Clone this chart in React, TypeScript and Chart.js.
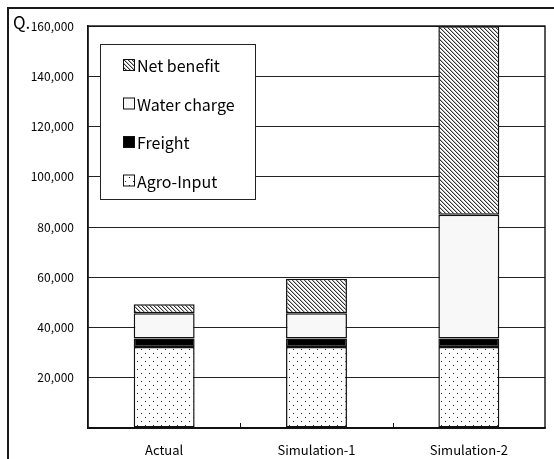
import React, { useEffect, useRef } from "react";
import { Chart, registerables } from "chart.js";

Chart.register(...registerables);

const categories = ["Actual", "Simulation-1", "Simulation-2"];
const agroInput = [32200, 32200, 32200];
const freight = [3400, 3400, 3400];
const waterCharge = [10100, 10100, 49300];
const netBenefit = [3600, 13700, 75000];
const yTicks = [0, 20000, 40000, 60000, 80000, 100000, 120000, 140000, 160000];
const legendLabels = ["Net benefit", "Water charge", "Freight", "Agro-Input"];

const FONT = "'Noto Sans CJK JP', 'Noto Sans', sans-serif";

function makeTile(w: number, h: number, draw: (c: CanvasRenderingContext2D) => void) {
  const cv = document.createElement("canvas");
  cv.width = w;
  cv.height = h;
  const c = cv.getContext("2d")!;
  draw(c);
  return cv;
}

function hatchPattern(ctx: CanvasRenderingContext2D) {
  const tile = makeTile(4, 4, (c) => {
    c.fillStyle = "#ffffff";
    c.fillRect(0, 0, 4, 4);
    for (let i = 0; i < 4; i++) {
      c.fillStyle = "#333333";
      c.fillRect(i, i, 1, 1);
      c.fillStyle = "#b8b8b8";
      c.fillRect((i + 1) % 4, i, 1, 1);
    }
  });
  return ctx.createPattern(tile, "repeat")!;
}

function dotPattern(ctx: CanvasRenderingContext2D) {
  const tile = makeTile(8, 8, (c) => {
    c.fillStyle = "#ffffff";
    c.fillRect(0, 0, 8, 8);
    c.fillStyle = "#222222";
    c.fillRect(1, 1, 1, 1);
    c.fillRect(5, 5, 1, 1);
  });
  return ctx.createPattern(tile, "repeat")!;
}

const framePlugin = {
  id: "frame",
  beforeDraw(chart: any) {
    const { ctx, width, height } = chart;
    ctx.save();
    ctx.fillStyle = "#ffffff";
    ctx.fillRect(0, 0, width, height);
    ctx.strokeStyle = "#1a1a1a";
    ctx.lineWidth = 2;
    ctx.beginPath();
    ctx.moveTo(8, height);
    ctx.lineTo(8, 8);
    ctx.lineTo(width, 8);
    ctx.stroke();
    ctx.fillStyle = "#000";
    ctx.font = `17px ${FONT}`;
    ctx.textBaseline = "alphabetic";
    ctx.textAlign = "left";
    ctx.fillText("Q.", 13, 29);
    ctx.restore();
  },
  beforeDatasetsDraw(chart: any) {
    const { ctx, chartArea } = chart;
    const xs = chart.scales.x;
    ctx.save();
    ctx.strokeStyle = "#111";
    ctx.lineWidth = 1.4;
    ctx.strokeRect(chartArea.left, chartArea.top, chartArea.right - chartArea.left, chartArea.bottom - chartArea.top);
    ctx.lineWidth = 1;
    ctx.beginPath();
    for (let i = 0; i < categories.length - 1; i++) {
      const x = Math.round((xs.getPixelForValue(i) + xs.getPixelForValue(i + 1)) / 2) + 0.5;
      ctx.moveTo(x, chartArea.bottom);
      ctx.lineTo(x, chartArea.bottom - 5);
    }
    ctx.stroke();
    ctx.restore();
  },
  afterDraw(chart: any) {
    const { ctx } = chart;
    const ds = chart.data.datasets;
    ctx.save();
    ctx.fillStyle = "#ffffff";
    ctx.fillRect(100.5, 44.5, 155, 155);
    ctx.strokeStyle = "#222";
    ctx.lineWidth = 1;
    ctx.strokeRect(100.5, 44.5, 155, 155);
    ctx.font = `16px ${FONT}`;
    ctx.textBaseline = "middle";
    ctx.textAlign = "left";
    legendLabels.forEach((label, i) => {
      const d = ds.find((x: any) => x.label === label);
      const cy = 65 + i * 38.5;
      ctx.fillStyle = d.backgroundColor;
      ctx.fillRect(123.5, cy - 5.5, 11, 11);
      ctx.strokeStyle = "#111";
      ctx.strokeRect(123.5, cy - 5.5, 11, 11);
      ctx.fillStyle = "#000";
      ctx.fillText(label, 137, cy + 1);
    });
    ctx.restore();
  },
};

export default function App() {
  const ref = useRef<HTMLCanvasElement>(null);
  useEffect(() => {
    document.body.style.margin = "0";
    const canvas = ref.current!;
    const ctx = canvas.getContext("2d")!;
    const chart = new Chart(canvas, {
      type: "bar",
      data: {
        labels: categories,
        datasets: [
          { label: "Agro-Input", data: agroInput, backgroundColor: dotPattern(ctx) as any },
          { label: "Freight", data: freight, backgroundColor: "#000000" },
          { label: "Water charge", data: waterCharge, backgroundColor: "#f8f8f8" },
          { label: "Net benefit", data: netBenefit, backgroundColor: hatchPattern(ctx) as any },
        ].map((d) => ({
          ...d,
          borderColor: "#111111",
          borderWidth: 1.5,
          borderSkipped: false as any,
          categoryPercentage: 1,
          barPercentage: 0.4,
        })),
      },
      options: {
        animation: false,
        responsive: false,
        devicePixelRatio: 1,
        layout: { padding: { top: 26, right: 9, left: 0, bottom: 0 } },
        plugins: { legend: { display: false }, tooltip: { enabled: false } },
        scales: {
          x: {
            stacked: true,
            grid: { display: false },
            border: { display: true, color: "#111", width: 1.4 },
            ticks: { color: "#000", font: { family: FONT, size: 13 }, padding: 6 },
            afterFit: (s: any) => {
              s.height = 31;
            },
          },
          y: {
            stacked: true,
            min: 0,
            max: 160000,
            afterBuildTicks: (s: any) => {
              s.ticks = yTicks.map((v) => ({ value: v }));
            },
            grid: { color: "#222", lineWidth: 1, drawTicks: false },
            border: { display: true, color: "#111", width: 1.4 },
            ticks: {
              color: "#000",
              font: { family: FONT, size: 12 },
              padding: 14,
              callback: (v: any) => (Number(v) === 0 ? "" : Number(v).toLocaleString("en-US")),
            },
            afterFit: (s: any) => {
              s.width = 88;
            },
          },
        },
      },
      plugins: [framePlugin],
    });
    return () => chart.destroy();
  }, []);
  return (
    <div style={{ position: "absolute", left: 0, top: 0, width: 554, height: 459 }}>
      <canvas ref={ref} width={554} height={459} style={{ width: 554, height: 459 }} />
    </div>
  );
}
